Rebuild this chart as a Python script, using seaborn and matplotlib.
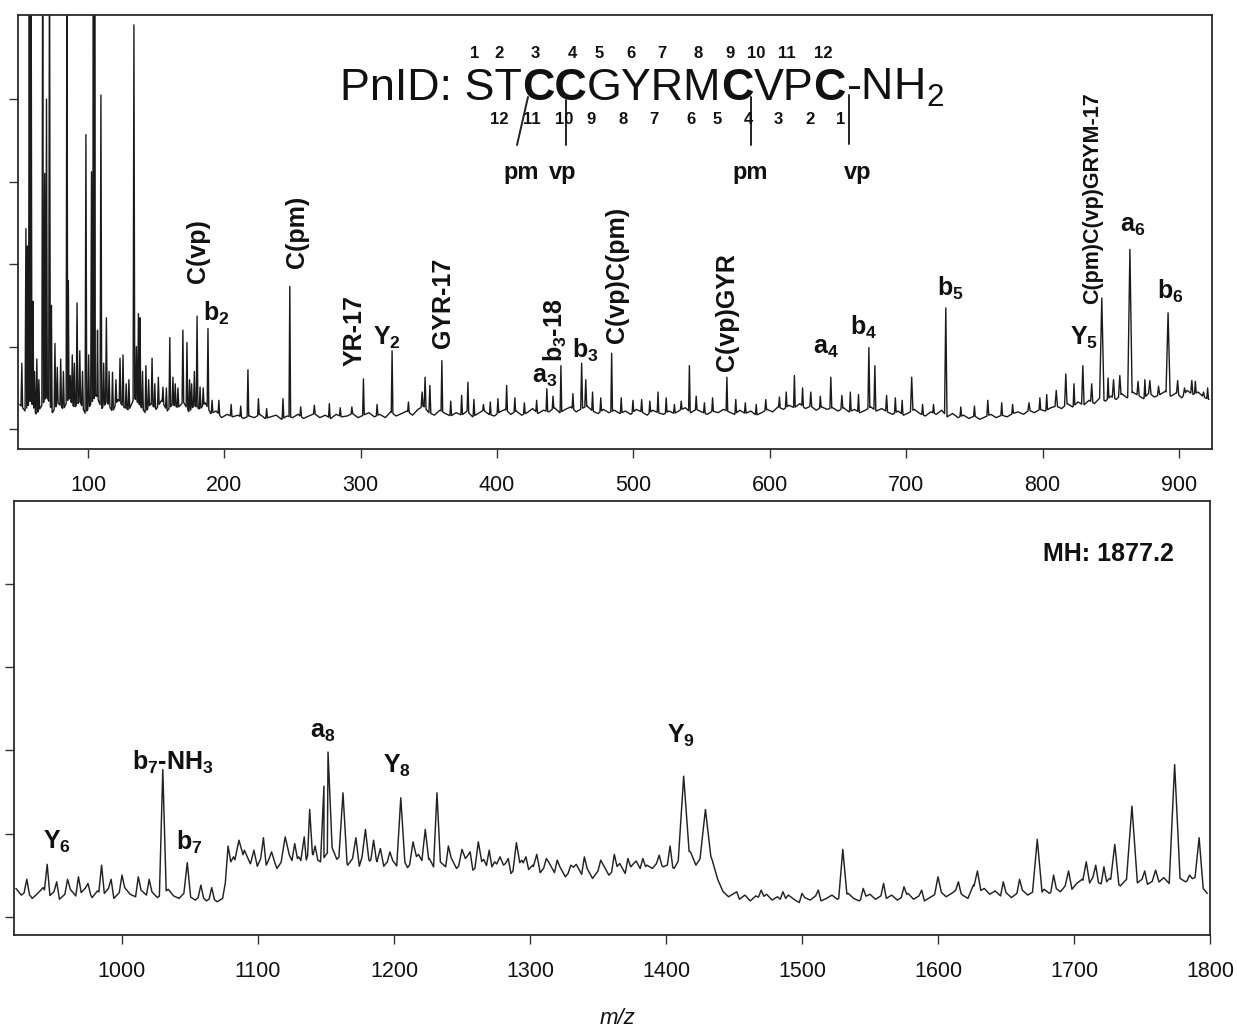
import numpy as np
import pandas as pd
import matplotlib
matplotlib.use("Agg")
import matplotlib.pyplot as plt
import seaborn as sns
from matplotlib.lines import Line2D

# ---------------- data (intensity in y-tick units) ----------------
# top panel baseline (hundredths of a tick unit) at m/z 50, 54, ..., 922
top_base_mz = np.arange(50, 923, 4)
top_base = [
    30, 22, 35, 18, 28, 40, 20, 32, 24, 38,
    26, 34, 19, 30, 42, 25, 33, 21, 36, 27,
    23, 38, 29, 20, 31, 24, 35, 22, 30, 26,
    33, 21, 29, 24, 32, 19, 22, 14, 18, 15,
    17, 13, 16, 14, 18, 13, 15, 17, 12, 16,
    14, 18, 13, 16, 19, 14, 17, 13, 18, 15,
    16, 19, 14, 17, 20, 15, 18, 14, 21, 16,
    19, 22, 17, 24, 28, 20, 17, 23, 19, 16,
    20, 17, 22, 15, 19, 23, 18, 16, 21, 24,
    18, 22, 17, 20, 25, 19, 23, 21, 26, 20,
    24, 27, 21, 25, 28, 22, 19, 24, 20, 23,
    19, 22, 18, 24, 21, 17, 23, 20, 18, 22,
    19, 23, 26, 20, 24, 21, 18, 22, 20, 24,
    21, 18, 23, 19, 22, 17, 20, 24, 21, 27,
    24, 29, 26, 31, 25, 28, 23, 27, 24, 26,
    22, 26, 21, 24, 20, 23, 27, 22, 25, 21,
    18, 22, 17, 20, 24, 19, 16, 21, 18, 23,
    15, 19, 14, 17, 13, 16, 12, 15, 18, 14,
    17, 15, 19, 21, 18, 23, 20, 24, 22, 26,
    28, 25, 31, 27, 33, 29, 35, 31, 38, 34,
    40, 36, 43, 38, 45, 41, 37, 44, 39, 42,
    46, 40, 44, 38, 47, 42, 45, 39, 36,
]

top_peak_mz = [54.5, 55.6, 57.0, 58.3, 59.7, 62.5, 66.8, 68.3, 69.6, 71.8, 73.2, 75.8,
               80.0, 84.6, 85.6, 88.5, 92.0, 94.0, 98.5, 102.6, 104.0, 104.9, 107.0,
               109.5, 113.5, 118.0, 123.5, 125.7, 130.0, 133.7, 137.0, 138.2, 142.5,
               147.0, 151.6, 155.0, 160.0, 162.3, 166.0, 169.6, 172.6, 176.0, 180.0,
               182.2, 188.0, 196.0, 205.0, 217.3, 225.0, 243.0, 248.0, 266.0, 277.0,
               293.5, 302.0, 323.0, 345.0, 347.2, 350.7, 359.5, 374.0, 378.6, 390.0,
               400.6, 407.0, 420.0, 429.0, 436.5, 446.8, 455.6, 462.0, 465.0, 484.0,
               499.6, 518.0, 530.0, 541.0, 552.0, 568.5, 590.0, 607.0, 618.0, 630.0,
               637.0, 644.7, 652.8, 672.6, 677.0, 685.6, 704.0, 729.0, 740.0, 759.8,
               790.0, 810.0, 817.0, 829.5, 836.0, 843.4, 852.0, 856.6, 864.0, 870.0,
               878.6, 885.0, 892.0, 899.0, 904.0, 909.4, 918.0,
               51.5, 60.8, 64.0, 77.5, 82.0, 87.0, 90.0, 96.0, 100.5, 111.5, 115.5,
               120.5, 128.0, 135.5, 140.0, 144.5, 149.0, 157.5, 164.0, 174.5, 178.0,
               184.5, 191.0,
               212, 231, 256, 285, 312, 335, 366, 383, 395, 413, 441, 470, 476, 491,
               506, 512, 524, 535, 546, 558, 575, 582, 597, 612, 624, 659, 665, 692,
               697, 712, 720, 750, 770, 778, 798, 803, 823, 848, 875, 912, 921]
top_peak_h = [2.43, 2.22, 6.0, 6.0, 1.55, 0.85, 6.0, 3.1, 4.0, 6.0, 1.5, 1.04,
              0.85, 6.0, 1.8, 0.9, 1.53, 0.95, 3.57, 3.12, 6.0, 6.0, 1.2,
              4.05, 1.35, 0.69, 0.86, 0.90, 0.6, 4.9, 1.40, 1.35, 0.77,
              0.86, 0.63, 0.51, 1.11, 0.63, 0.5, 1.20, 1.05, 0.55, 1.37,
              0.51, 1.22, 0.35, 0.3, 0.72, 0.37, 0.37, 1.73, 0.29, 0.31,
              0.27, 0.61, 0.95, 0.45, 0.63, 0.53, 0.83, 0.41, 0.57, 0.3,
              0.37, 0.53, 0.32, 0.35, 0.49, 0.77, 0.43, 0.80, 0.60, 0.92,
              0.35, 0.45, 0.3, 0.77, 0.32, 0.63, 0.3, 0.39, 0.65, 0.45,
              0.40, 0.63, 0.41, 0.99, 0.77, 0.41, 0.63, 1.47, 0.27, 0.35,
              0.32, 0.47, 0.67, 0.77, 0.55, 1.59, 0.60, 0.65, 2.18, 0.58,
              0.59, 0.52, 1.41, 0.59, 0.50, 0.59, 0.45,
              0.8, 0.7, 0.6, 0.75, 0.7, 0.65, 0.8, 0.7, 0.9, 0.8, 0.7,
              0.6, 0.55, 1.0, 0.7, 0.6, 0.55, 0.5, 0.55, 0.6, 0.7,
              0.5, 0.35,
              0.28, 0.25, 0.27, 0.26, 0.30, 0.33, 0.34, 0.36, 0.33, 0.38, 0.40, 0.45,
              0.38, 0.38, 0.36, 0.34, 0.38, 0.34, 0.40, 0.38, 0.36, 0.32, 0.36, 0.45,
              0.50, 0.45, 0.42, 0.38, 0.35, 0.30, 0.30, 0.28, 0.32, 0.30, 0.38, 0.42,
              0.55, 0.62, 0.60, 0.58, 0.50]
top_peak_w = [0.6, 0.5, 0.6, 0.6, 0.5, 0.6, 0.6, 0.6, 0.6, 0.6, 0.5, 0.6,
              0.6, 0.6, 0.5, 0.6, 0.6, 0.6, 0.6, 0.6, 0.6, 0.5, 0.5,
              0.6, 0.6, 0.6, 0.6, 0.6, 0.6, 0.6, 0.6, 0.5, 0.6,
              0.6, 0.6, 0.6, 0.6, 0.6, 0.6, 0.6, 0.6, 0.6, 0.6,
              0.6, 0.6, 0.6, 0.6, 0.6, 0.6, 0.6, 0.6, 0.6, 0.6,
              0.6, 0.6, 0.6, 0.7, 0.7, 0.7, 0.6, 0.6, 0.6, 0.6,
              0.6, 0.6, 0.6, 0.6, 0.6, 0.6, 0.6, 0.7, 0.7, 0.6,
              0.6, 0.6, 0.6, 0.6, 0.6, 0.6, 0.6, 0.6, 0.6, 0.7,
              0.6, 0.7, 0.7, 0.7, 0.7, 0.7, 0.9, 0.9, 0.6, 0.7,
              0.8, 0.9, 0.9, 0.9, 0.8, 1.6, 0.9, 0.9, 1.6, 0.8,
              0.9, 0.8, 1.5, 0.8, 0.8, 0.8, 0.8] + [0.6] * 64

# bottom panel baseline (hundredths) at m/z 922, 926, ..., 1798
bot_base_mz = np.arange(922, 1801, 4)
bot_base = [
    34, 26, 31, 22, 28, 35, 24, 30, 21, 27,
    33, 25, 29, 36, 23, 31, 26, 34, 22, 29,
    35, 27, 24, 32, 26, 30, 23, 28, 33, 25,
    22, 29, 24, 20, 26, 19, 23, 18, 22, 60,
    72, 58, 80, 65, 55, 70, 62, 75, 58, 68,
    78, 64, 72, 60, 82, 70, 66, 74, 85, 69,
    76, 62, 71, 58, 80, 67, 73, 55, 64, 70,
    61, 72, 59, 68, 75, 63, 70, 57, 66, 60,
    71, 58, 65, 73, 56, 62, 69, 54, 66, 59,
    64, 52, 60, 68, 55, 62, 50, 58, 65, 53,
    60, 48, 56, 63, 51, 58, 46, 55, 62, 50,
    57, 64, 52, 60, 67, 55, 62, 58, 66, 60,
    63, 58, 70, 80, 78, 62, 72, 85, 68, 45,
    30, 24, 28, 21, 26, 19, 25, 22, 27, 20,
    24, 18, 26, 21, 17, 23, 20, 25, 19, 22,
    26, 21, 25, 28, 22, 19, 24, 27, 21, 25,
    22, 26, 20, 24, 28, 21, 25, 19, 23, 27,
    30, 24, 28, 33, 26, 22, 38, 30, 34, 27,
    31, 25, 29, 23, 28, 32, 26, 30, 24, 33,
    28, 35, 30, 38, 32, 40, 45, 36, 48, 41,
    38, 46, 42, 37, 44, 48, 40, 45, 39, 43,
    41, 47, 40, 44, 46, 42, 45, 48, 36, 28,
]

bot_peak_mz = [945, 960, 985, 1000, 1012, 1030, 1048, 1078, 1086, 1097, 1110, 1120,
               1134, 1138, 1148.5, 1151.5, 1162.5, 1172, 1179, 1190, 1205, 1214, 1223,
               1231.6, 1250, 1262, 1278, 1290, 1305, 1330, 1352, 1372, 1395, 1403,
               1413, 1429, 1470, 1530, 1560, 1600, 1629, 1648, 1673, 1696, 1709, 1716,
               1730, 1742.6, 1760, 1774, 1792,
               930, 952, 968, 975, 992, 1020, 1058, 1066, 1104, 1127, 1142, 1185, 1197,
               1240, 1256, 1270, 1284, 1297, 1312, 1320, 1340, 1362, 1383, 1452, 1486,
               1500, 1512, 1545, 1575, 1588, 1615, 1660, 1685, 1722, 1752, 1785]
bot_peak_h = [0.63, 0.45, 0.62, 0.50, 0.48, 1.77, 0.65, 0.85, 0.92, 0.80, 0.78, 0.96,
              0.96, 1.29, 1.57, 1.98, 1.49, 0.95, 1.05, 0.82, 1.43, 0.90, 1.05,
              1.49, 0.81, 0.90, 0.72, 0.89, 0.75, 0.62, 0.68, 0.70, 0.74, 0.85,
              1.69, 1.29, 0.32, 0.81, 0.40, 0.48, 0.55, 0.42, 0.93, 0.55, 0.66, 0.62,
              0.87, 1.33, 0.56, 1.83, 0.95,
              0.45, 0.42, 0.48, 0.40, 0.45, 0.45, 0.38, 0.35, 0.95, 0.88, 0.85, 0.92, 0.78,
              0.85, 0.78, 0.80, 0.70, 0.72, 0.70, 0.68, 0.72, 0.75, 0.70, 0.30, 0.30,
              0.28, 0.32, 0.34, 0.36, 0.32, 0.42, 0.45, 0.50, 0.60, 0.55, 0.50]
bot_peak_w = [2, 2, 2, 2, 2, 2.5, 2.5, 2, 3, 2.5, 2.5, 3,
              2.5, 2.5, 2.5, 3, 3, 2.5, 2.5, 2.5, 3, 2.5, 2.5,
              2.5, 2.5, 2.5, 2.5, 2.5, 2.5, 2, 2, 2, 2, 2,
              4, 4, 2, 3, 2, 2.5, 2.5, 2, 3.5, 2.5, 2.5, 2,
              3, 4, 2.5, 4, 3] + [2] * 36

top_xticks = [100, 200, 300, 400, 500, 600, 700, 800, 900]
bot_xticks = [1000, 1100, 1200, 1300, 1400, 1500, 1600, 1700, 1800]

# peak annotations: text, m/z, intensity, rotated?
top_labels = [
    ("C(vp)", 180.6, 1.77, True), ("b$_2$", 184.3, 1.40, False),
    ("C(pm)", 253.2, 1.95, True), ("YR-17", 295.7, 0.77, True),
    ("Y$_2$", 308.9, 1.11, False), ("GYR-17", 360.3, 0.99, True),
    ("a$_3$", 425.5, 0.63, False), ("b$_3$-18", 442.4, 0.81, True),
    ("b$_3$", 454.8, 0.95, False), ("C(vp)C(pm)", 487.8, 1.04, True),
    ("C(vp)GYR", 568.5, 0.71, True), ("a$_4$", 631.5, 0.98, False),
    ("b$_4$", 658.7, 1.23, False), ("b$_5$", 722.4, 1.71, False),
    ("Y$_5$", 820.0, 1.11, False), ("a$_6$", 856.6, 2.46, False),
    ("b$_6$", 883.7, 1.67, False),
]
long_label = ("C(pm)C(vp)GRYM-17", 836.8, 1.52)
bot_labels = [
    ("Y$_6$", 941.9, 0.90), ("b$_7$-NH$_3$", 1007.4, 1.86), ("b$_7$", 1039.7, 0.89),
    ("a$_8$", 1138.2, 2.22), ("Y$_8$", 1191.9, 1.81), ("Y$_9$", 1400.7, 2.17),
]

seq_segments = [("PnID: ST", "normal"), ("CC", "bold"), ("GYRM", "normal"), ("C", "bold"),
                ("VP", "normal"), ("C", "bold"), ("-NH$_2$", "normal")]
top_numbers = ["1", "2", "3", "4", "5", "6", "7", "8", "9", "10", "11", "12"]
bottom_numbers = ["12", "11", "10", "9", "8", "7", "6", "5", "4", "3", "2", "1"]
link_names = ["pm", "vp", "pm", "vp"]


def build_trace(base_mz, base_vals, pk_mz, pk_h, pk_w):
    bx = np.asarray(base_mz, float)
    by = np.asarray(base_vals, float) / 100.0
    keep = np.ones(len(bx), bool)
    for m, w in zip(pk_mz, pk_w):
        keep &= ~((bx > m - w) & (bx < m + w))
    pts = list(zip(bx[keep], by[keep]))
    for m, h, w in zip(pk_mz, pk_h, pk_w):
        pts.append((m - w, float(np.interp(m - w, bx, by))))
        pts.append((m, h))
        pts.append((m + w, float(np.interp(m + w, bx, by))))
    pts.sort(key=lambda p: p[0])
    return pd.DataFrame(pts, columns=["mz", "intensity"])


# ---------------- figure ----------------
sns.set_theme(style="white")
plt.rcParams["font.family"] = ["Liberation Sans", "DejaVu Sans"]
plt.rcParams["mathtext.default"] = "regular"

W, H = 1237, 1030
fig = plt.figure(figsize=(W / 100, H / 100), dpi=100)
fig.patch.set_facecolor("white")


def px(x, y):
    return x / W, 1 - y / H


ax1 = fig.add_axes([18 / W, 1 - 449 / H, (1212 - 18) / W, (449 - 15) / H])
ax2 = fig.add_axes([14 / W, 1 - 935 / H, (1210 - 14) / W, (935 - 501) / H])

df_top = build_trace(top_base_mz, top_base, top_peak_mz, top_peak_h, top_peak_w)
df_bot = build_trace(bot_base_mz, bot_base, bot_peak_mz, bot_peak_h, bot_peak_w)

sns.lineplot(data=df_top, x="mz", y="intensity", ax=ax1, estimator=None, sort=False,
             color="#1a1a1a", linewidth=1.0)
sns.lineplot(data=df_bot, x="mz", y="intensity", ax=ax2, estimator=None, sort=False,
             color="#222222", linewidth=1.05)

ax1.set_xlim(48.7, 924.2)
ax1.set_ylim(-0.24, 5.02)
ax2.set_xlim(920.6, 1800)
ax2.set_ylim(-0.22, 5.0)

for ax, ticks in ((ax1, top_xticks), (ax2, bot_xticks)):
    ax.set_xlabel("")
    ax.set_ylabel("")
    ax.set_xticks(ticks)
    ax.set_xticklabels([str(t) for t in ticks])
    ax.set_yticks([0, 1, 2, 3, 4])
    ax.tick_params(axis="both", which="major", direction="out", length=6.5, width=1.0,
                   color="#333333", bottom=True, left=True, labelleft=False,
                   labelsize=15.5, labelcolor="#111111", pad=12.5)
    for sp in ax.spines.values():
        sp.set_color("#2a2a2a")
        sp.set_linewidth(1.3)
    ax.set_facecolor("white")

LAB_FS = 18
for txt, mz, inten, rot in top_labels:
    if rot:
        ax1.text(mz, inten, txt, rotation=90, ha="center", va="bottom",
                 fontsize=LAB_FS, fontweight="bold", color="#111111")
    else:
        ax1.text(mz, inten, txt, ha="left", va="center",
                 fontsize=LAB_FS, fontweight="bold", color="#111111")
ax1.text(long_label[1], long_label[2], long_label[0], rotation=90, ha="center",
         va="bottom", fontsize=15.5, fontweight="bold", color="#111111")

for txt, mz, inten in bot_labels:
    ax2.text(mz, inten, txt, ha="left", va="center", fontsize=LAB_FS,
             fontweight="bold", color="#111111")

fig.text(*px(1043, 554), "MH: 1877.2", ha="left", va="center", fontsize=18,
         fontweight="bold", color="#111111")
fig.text(*px(618, 1018), "m/z", ha="center", va="center", fontsize=16,
         style="italic", color="#111111")

# ---------------- peptide sequence ----------------
renderer = fig.canvas.get_renderer()


def draw_seq(fs, x0=340, ybase=100):
    texts = []
    x = x0
    for s, wt in seq_segments:
        t = fig.text(*px(x, ybase), s, ha="left", va="baseline", fontsize=fs,
                     fontweight=wt, color="#111111")
        bb = t.get_window_extent(renderer)
        x = bb.x1
        texts.append(t)
    return texts, x


texts, xend = draw_seq(32)
fs_fit = 32 * (945 - 340) / (xend - 340)
for t in texts:
    t.remove()
draw_seq(fs_fit)

top_num_x = [475, 499, 535, 572, 599, 631, 662, 698, 730, 756, 787, 823]
bot_num_x = [499, 532, 564, 591, 623, 654, 691, 717, 748, 778, 810, 841]
for s, x in zip(top_numbers, top_num_x):
    fig.text(*px(x, 53), s, ha="center", va="center", fontsize=12, fontweight="bold",
             color="#111111")
for s, x in zip(bottom_numbers, bot_num_x):
    fig.text(*px(x, 120), s, ha="center", va="center", fontsize=12, fontweight="bold",
             color="#111111")

for (xa, ya, xb, yb) in [(528, 97, 517, 145), (566, 100, 566, 145),
                         (751, 97, 751, 145), (849, 95, 849, 144)]:
    fa = px(xa, ya)
    fb = px(xb, yb)
    fig.add_artist(Line2D([fa[0], fb[0]], [fa[1], fb[1]], color="#222222", lw=1.4))

for s, x in zip(link_names, [521, 563, 750, 858]):
    fig.text(*px(x, 172), s, ha="center", va="center", fontsize=17, fontweight="bold",
             color="#111111")

fig.savefig("out.png", dpi=100, facecolor="white")
